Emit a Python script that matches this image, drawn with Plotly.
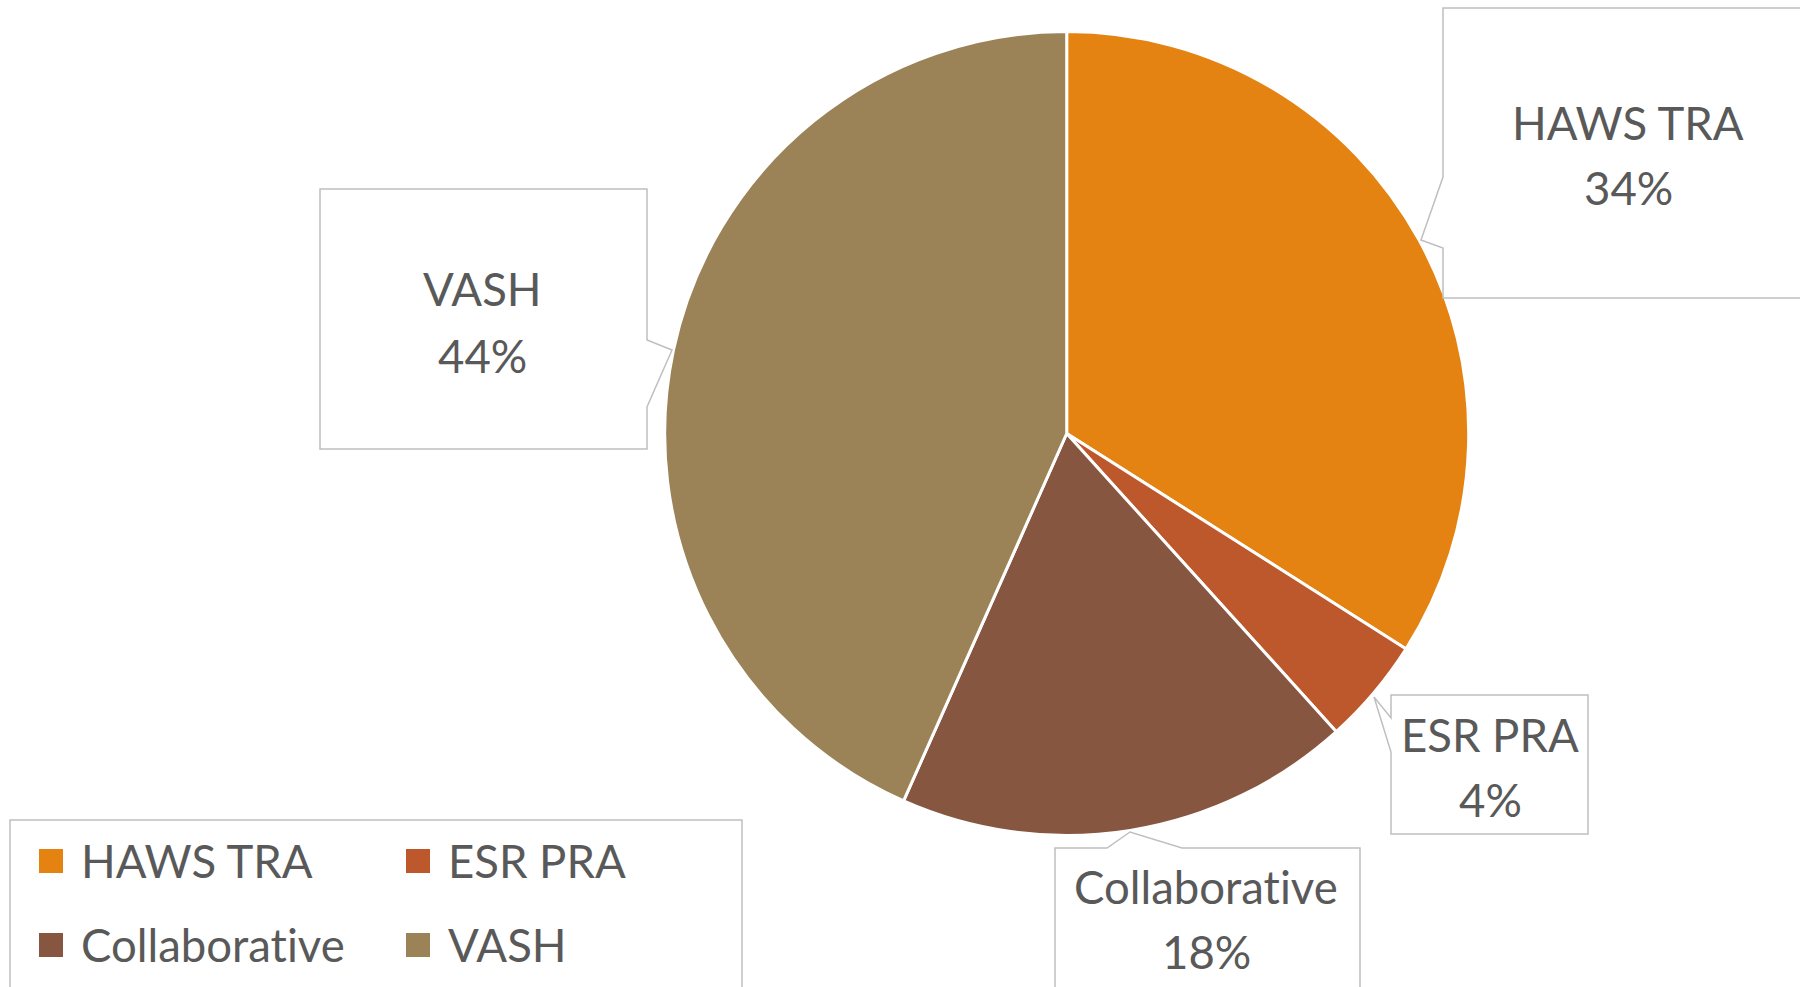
import plotly.graph_objects as go

# ---- data ----
categories = ["HAWS TRA", "ESR PRA", "Collaborative", "VASH"]
shares = [34.0, 4.3, 18.35, 43.35]          # slice sizes
label_pct = ["34%", "4%", "18%", "44%"]      # percentages as printed in the callouts
colors = ["#E48312", "#BD582C", "#865640", "#9B8357"]

W, H = 1800, 987
FONT = "Lato"
FSIZE = 45.5
TXT = "#595959"
BOX = "#BFBFBF"


def px(x):
    return x / W


def py(y):
    return 1 - y / H


def nolig(s):
    return f'<span style="font-variant-ligatures:none">{s}</span>'


fig = go.Figure()

cx, cy, r = 1066.7, 433.5, 402
fig.add_trace(go.Pie(
    labels=categories, values=shares, sort=False, direction="clockwise",
    rotation=0, textinfo="none", hoverinfo="label+percent",
    marker=dict(colors=colors, line=dict(color="white", width=3)),
    domain=dict(x=[px(cx - r), px(cx + r)], y=[py(cy + r), py(cy - r)]),
    showlegend=False,
))

shapes = []
annotations = []


def path(points):
    return "M " + " L ".join(f"{px(x)},{py(y)}" for x, y in points) + " Z"


# callout boxes (pixel geometry), with pointer notch
callouts = {
    "HAWS TRA": dict(pts=[(1443, 8), (1815, 8), (1815, 298), (1443, 298), (1443, 248),
                          (1421, 240), (1443, 177)], tx=1628, ty1=122, ty2=187),
    "ESR PRA": dict(pts=[(1391, 695), (1588, 695), (1588, 834), (1391, 834), (1391, 752),
                         (1374, 697), (1391, 718)], tx=1490, ty1=734, ty2=799),
    "Collaborative": dict(pts=[(1055, 848), (1107, 848), (1130, 832), (1182, 848), (1360, 848),
                               (1360, 1000), (1055, 1000)], tx=1206, ty1=886, ty2=951),
    "VASH": dict(pts=[(320, 189), (647, 189), (647, 340), (672, 350), (647, 407),
                      (647, 449), (320, 449)], tx=483, ty1=288, ty2=355),
}

for cat, pct in zip(categories, label_pct):
    c = callouts[cat]
    shapes.append(dict(type="path", xref="paper", yref="paper", path=path(c["pts"]),
                       line=dict(color=BOX, width=1.5), fillcolor="white", layer="above"))
    for txt, ty in ((nolig(cat), c["ty1"]), (pct, c["ty2"])):
        annotations.append(dict(x=px(c["tx"]), y=py(ty), xref="paper", yref="paper",
                                text=txt, showarrow=False, xanchor="center", yanchor="middle",
                                font=dict(family=FONT, size=FSIZE, color=TXT)))

# legend box
shapes.append(dict(type="rect", xref="paper", yref="paper",
                   x0=px(10), x1=px(742), y0=py(1000), y1=py(820),
                   line=dict(color=BOX, width=1.5), fillcolor="white", layer="above"))
leg_pos = [(39, 861), (406, 861), (39, 945), (406, 945)]
for cat, col, (lx, ly) in zip(categories, colors, leg_pos):
    shapes.append(dict(type="rect", xref="paper", yref="paper",
                       x0=px(lx), x1=px(lx + 24), y0=py(ly + 12), y1=py(ly - 12),
                       line=dict(width=0), fillcolor=col, layer="above"))
    annotations.append(dict(x=px(lx + 40), y=py(ly - 1), xref="paper", yref="paper",
                            text=nolig(cat), showarrow=False, xanchor="left", yanchor="middle",
                            font=dict(family=FONT, size=FSIZE, color=TXT)))

fig.update_layout(
    width=W, height=H, autosize=False,
    margin=dict(l=0, r=0, t=0, b=0),
    paper_bgcolor="white", plot_bgcolor="white",
    shapes=shapes, annotations=annotations,
)

fig.write_html("out.html", config={"displayModeBar": False})
